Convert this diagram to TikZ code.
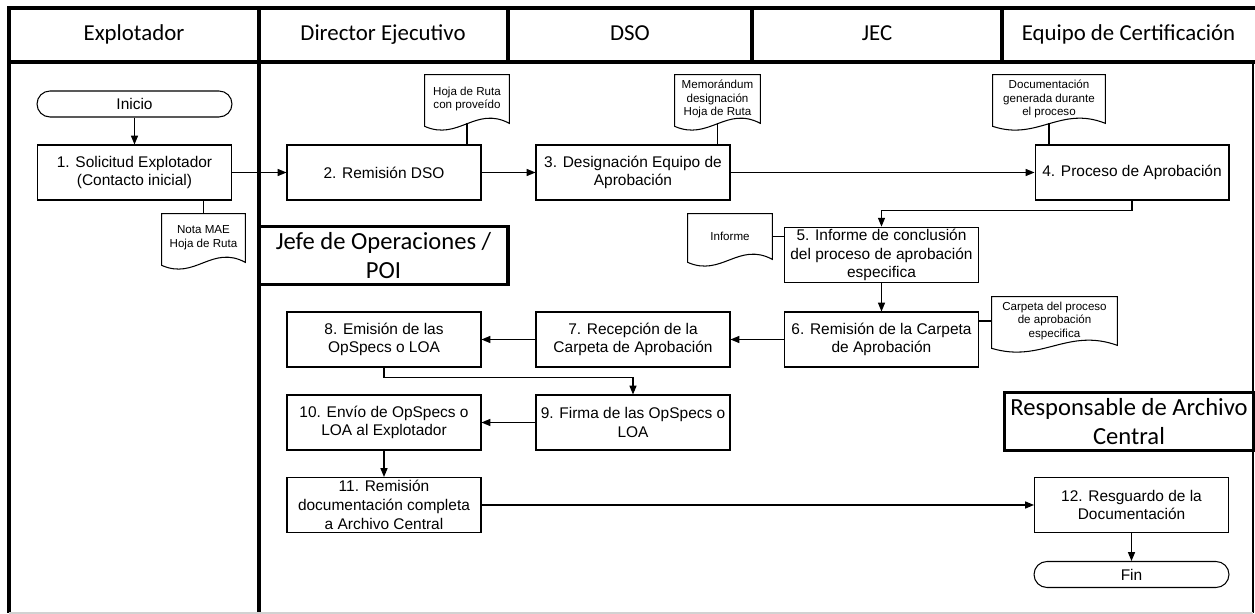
\documentclass[tikz,border=0pt]{standalone}
\usepackage{fontspec}
\setmainfont{Liberation Sans}
\newfontfamily\calibri{Carlito}
\usetikzlibrary{arrows.meta,positioning,calc}

\newcommand{\boxfont}{\fontsize{8.8}{10.7}\selectfont}
\newcommand{\docfont}{\fontsize{6.6}{7.9}\selectfont}
\newcommand{\titlefont}{\calibri\fontsize{13}{16}\selectfont}
\newcommand{\lanefont}{\calibri\fontsize{14}{16.5}\selectfont}
% document outline with wavy bottom, drawn round a named node
\newcommand{\docwave}[1]{%
	\draw[docline] (#1.north west) -- ($(#1.south west)+(0,3)$)
	.. controls ($(#1.south west)!0.4!(#1.south east)+(0,18)$) and ($(#1.south west)!0.6!(#1.south east)+(0,-18)$) .. (#1.south east)
	-- (#1.north east) -- cycle;}

\begin{document}
\begin{tikzpicture}[x=0.02cm,y=-0.02cm,
		lane/.style={line width=2pt},
		thinline/.style={line width=0.6pt},
		hdr/.style={font=\titlefont,text height=9pt,text depth=2.5pt},
		lanetitle/.style={draw,line width=2pt,align=center,font=\lanefont},
		proc/.style={draw,line width=0.6pt,minimum width=3.88cm,minimum height=1.1cm,align=center,inner sep=1pt,font=\boxfont},
		term/.style={draw,line width=0.6pt,rounded corners=0.26cm,minimum width=3.9cm,minimum height=0.52cm,inner sep=1pt,font=\boxfont},
		doc/.style={inner sep=1pt,align=center,font=\docfont},
		docline/.style={line width=0.6pt},
		link/.style={line width=0.6pt},
		arr/.style={-{Triangle[length=5pt,width=4pt]},line width=0.6pt}
		]
		
		\useasboundingbox (0,0) rectangle (1255,614);
		
		% --- Swimlane frame
		\draw[lane] (1255,8) -- (9,8) -- (9,613);
		\draw[lane] (9,62) -- (1255,62);
		\draw[lane] (259,8) -- (259,613);
		\draw[lane] (508,8) -- (508,62);
		\draw[lane] (752,8) -- (752,62);
		\draw[lane] (1002,8) -- (1002,62);
		\draw[thinline] (1253,62) -- (1253,613);
		\draw[thinline,gray!35] (9,613) -- (1253,613);
		
		% --- Lane headers
		\node[hdr] (hExp) at (134,35) {Explotador};
		\node[hdr] (hDir) at (383,35) {Director Ejecutivo};
		\node[hdr] (hDso) at (630,35) {DSO};
		\node[hdr] (hJec) at (877,35) {JEC};
		\node[hdr] (hEqu) at (1128.5,35) {Equipo de Certificación};
		
		\node[lanetitle,minimum width=4.98cm,minimum height=1.1cm] (tJefe) at (383.5,255.5) {Jefe de Operaciones /\\POI};
		\node[lanetitle,minimum width=4.96cm,minimum height=1.14cm] (tResp) at (1129,421.5) {Responsable de Archivo\\Central};
		
		% --- Process steps
		\node[term] (inicio) at (134.5,104) {Inicio};
		\node[proc] (s1) at (134.5,172.5) {1. Solicitud Explotador\\(Contacto inicial)};
		\node[proc] (s2) at (384,172.5) {2. Remisión DSO};
		\node[proc] (s3) at (633,172.5) {3. Designación Equipo de\\Aprobación};
		\node[proc] (s4) at (1132,172.5) {4. Proceso de Aprobación};
		\node[proc] (s5) at (881.5,255) {5. Informe de conclusión\\del proceso de aprobación\\especifica};
		\node[proc] (s6) at (881.5,339.5) {6. Remisión de la Carpeta\\de Aprobación};
		\node[proc] (s7) at (633,339.5) {7. Recepción de la\\Carpeta de Aprobación};
		\node[proc] (s8) at (384,339.5) {8. Emisión de las\\OpSpecs o LOA};
		\node[proc] (s9) at (633,422.5) {9. Firma de las OpSpecs o\\LOA};
		\node[proc] (s10) at (384,422.5) {10. Envío de OpSpecs o\\LOA al Explotador};
		\node[proc] (s11) at (384,505) {11. Remisión\\documentación completa\\a Archivo Central};
		\node[proc] (s12) at (1131.5,505) {12. Resguardo de la\\Documentación};
		\node[term] (fin) at (1131.5,574.5) {Fin};
		
		% --- Documents
		\node[doc,minimum width=1.66cm,minimum height=0.96cm] (dNota) at (203.5,238) {Nota MAE\\Hoja de Ruta};
		\node[doc,minimum width=1.68cm,minimum height=0.96cm] (dHoja) at (467,99) {Hoja de Ruta\\con proveído};
		\node[doc,minimum width=1.7cm,minimum height=0.96cm] (dMemo) at (717.5,99) {Memorándum\\designación\\Hoja de Ruta};
		\node[doc,minimum width=2.24cm,minimum height=0.96cm] (dDocu) at (1049,99) {Documentación\\generada durante\\el proceso};
		\node[doc,minimum width=1.68cm,minimum height=0.9cm] (dInf) at (730,236.5) {Informe};
		\node[doc,minimum width=2.5cm,minimum height=0.96cm] (dCarp) at (1054.5,321) {Carpeta del proceso\\de aprobación\\especifica};
		\docwave{dNota}
		\docwave{dHoja}
		\docwave{dMemo}
		\docwave{dDocu}
		\docwave{dInf}
		\docwave{dCarp}
		
		% --- Document links
		\draw[link] (s1.south -| dNota.north) -- (dNota.north);
		\draw[link] (dHoja.south) -- (dHoja.south |- s2.north);
		\draw[link] (dMemo.south) -- (dMemo.south |- s3.north);
		\draw[link] (dDocu.south) -- (dDocu.south |- s4.north);
		\draw[link] (dInf.east) -- (dInf.east -| s5.west);
		\draw[link] (dCarp.west) -- (dCarp.west -| s6.east);
		
		% --- Flow
		\draw[arr] (inicio) -- (s1);
		\draw[arr] (s1) -- (s2);
		\draw[arr] (s2) -- (s3);
		\draw[arr] (s3) -- (s4);
		\draw[arr] (s4.south) -- ++(0,10) -| (s5.north);
		\draw[arr] (s5) -- (s6);
		\draw[arr] (s6) -- (s7);
		\draw[arr] (s7) -- (s8);
		\draw[arr] (s8.south) -- ++(0,10) -| (s9.north);
		\draw[arr] (s9) -- (s10);
		\draw[arr] (s10) -- (s11);
		\draw[arr] (s11) -- (s12);
		\draw[arr] (s12) -- (fin);
		
	\end{tikzpicture}
\end{document}
